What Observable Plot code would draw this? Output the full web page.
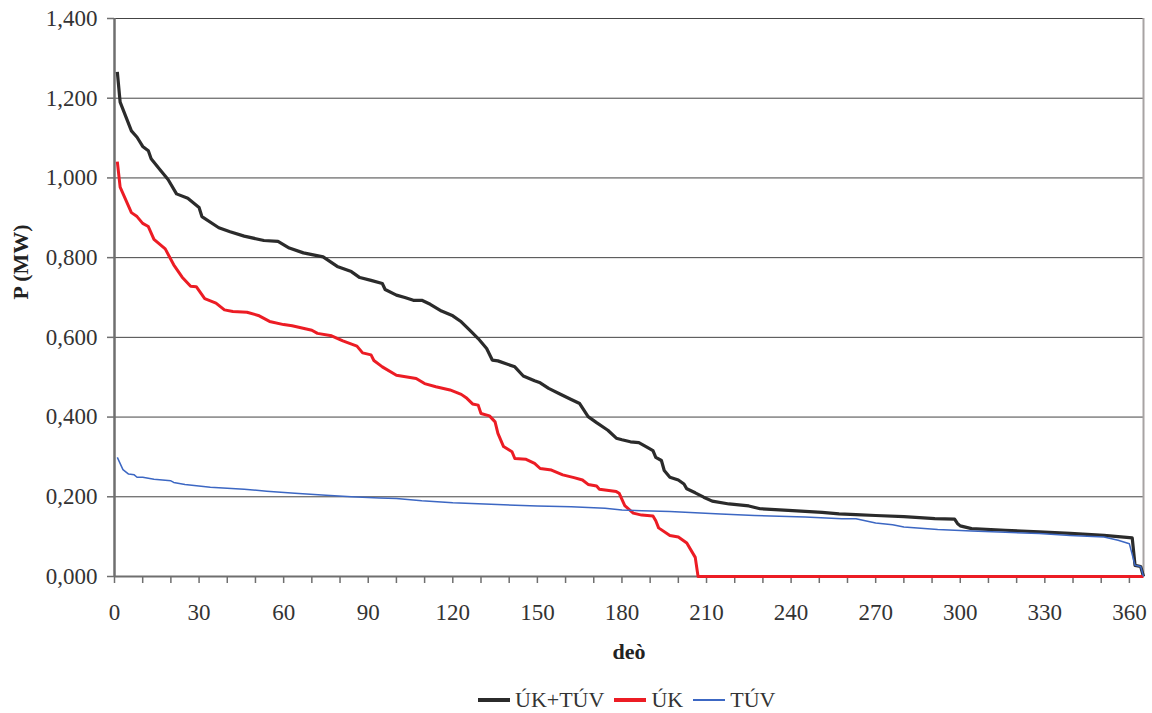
<!DOCTYPE html>
<html>
<head>
<meta charset="utf-8">
<script src="https://cdn.jsdelivr.net/npm/d3@7"></script>
<script src="https://cdn.jsdelivr.net/npm/@observablehq/plot@0.6"></script>
<style>
  body { margin: 0; background: #fff; font-family: "Liberation Serif", "Times New Roman", serif; }
  #chart { width: 1152px; height: 713px; overflow: hidden; }
  .legend { display: flex; align-items: center; height: 28px; margin-top: 14px; padding-left: 478px;
            font-size: 22px; color: #333; line-height: 28px; }
  .legend .item { display: flex; align-items: center; margin-right: 10px; }
  .legend .sw { display: inline-block; width: 32px; margin-right: 5px; }
</style>
</head>
<body>
<div id="chart"></div>
<script>
// Load duration curves of a heat source: power (MW) sorted over the days of the year.
const seriesNames = ["ÚK+TÚV", "ÚK", "TÚV"];
const seriesColors = ["#2b2b2b", "#ec1c24", "#3c67c3"];
const seriesWidths = [3.2, 3, 1.5];

// ÚK+TÚV: heating + hot water
const totalDays = [1, 2, 6, 8, 10, 12, 13, 16, 19, 22, 26, 30, 31, 37, 41, 46, 53, 58, 62, 67, 74, 79, 84, 87,
  91, 95, 96, 100, 103, 106, 109, 112, 116, 120, 123, 126, 129, 132, 134, 136, 142, 145, 149, 151, 154, 158,
  162, 165, 168, 171, 175, 178, 180, 183, 186, 189, 191, 192, 194, 195, 197, 200, 202, 203, 206, 209, 212,
  218, 225, 229, 239, 251, 257, 263, 270, 280, 291, 298, 299, 300, 304, 316, 328, 339, 351, 361, 362, 364, 365];
const totalValues = [1.266, 1.190, 1.118, 1.102, 1.079, 1.068, 1.048, 1.022, 0.996, 0.960, 0.949, 0.926, 0.903,
  0.875, 0.865, 0.854, 0.843, 0.841, 0.824, 0.812, 0.802, 0.778, 0.765, 0.750,
  0.743, 0.735, 0.720, 0.706, 0.700, 0.693, 0.693, 0.683, 0.666, 0.654, 0.639, 0.618, 0.597, 0.572, 0.543,
  0.541, 0.526, 0.503, 0.491, 0.486, 0.472, 0.458,
  0.444, 0.434, 0.401, 0.386, 0.367, 0.347, 0.343, 0.338, 0.336, 0.324, 0.316, 0.299, 0.291, 0.266, 0.249,
  0.242, 0.232, 0.220, 0.210, 0.199, 0.189,
  0.182, 0.177, 0.170, 0.166, 0.161, 0.157, 0.155, 0.153, 0.150, 0.145, 0.144, 0.133, 0.127, 0.120, 0.116,
  0.112, 0.108, 0.103, 0.097, 0.028, 0.025, 0.000];

// ÚK: space heating
const heatingDays = [1, 2, 6, 8, 10, 12, 14, 18, 21, 24, 27, 29, 32, 36, 39, 42, 47, 51, 55, 60, 63, 70, 72, 77,
  81, 86, 88, 91, 92, 95, 100, 107, 110, 114, 119, 123, 125, 127, 129, 130, 133, 135, 136, 138, 141, 142, 146,
  149, 151, 155, 159, 163, 166, 168, 171, 172, 178, 179, 181, 184, 187, 191, 192, 193, 197, 200, 203, 206, 207, 365];
const heatingValues = [1.041, 0.977, 0.913, 0.903, 0.886, 0.878, 0.846, 0.822, 0.782, 0.751, 0.728, 0.727, 0.697,
  0.686, 0.669, 0.665, 0.663, 0.655, 0.640, 0.632, 0.629, 0.618, 0.610, 0.604,
  0.591, 0.578, 0.561, 0.556, 0.542, 0.526, 0.505, 0.497, 0.484, 0.476, 0.468, 0.457, 0.447, 0.433, 0.430,
  0.409, 0.403, 0.388, 0.359, 0.326, 0.313, 0.296, 0.294,
  0.284, 0.271, 0.267, 0.255, 0.248, 0.242, 0.231, 0.227, 0.219, 0.213, 0.209, 0.178, 0.159, 0.154, 0.152,
  0.140, 0.122, 0.103, 0.099, 0.084, 0.048, 0.000, 0.000];

// TÚV: hot water
const waterDays = [1, 3, 5, 7, 8, 10, 14, 20, 21, 25, 34, 46, 54, 64, 75, 84, 94, 100, 109, 120, 138, 150, 162,
  174, 180, 187, 197, 215, 227, 245, 258, 263, 270, 276, 280, 292, 304, 316, 328, 339, 351, 356, 360, 362, 364, 365];
const waterValues = [0.299, 0.268, 0.257, 0.255, 0.249, 0.249, 0.244, 0.240, 0.236, 0.231, 0.224, 0.219, 0.214,
  0.209, 0.204, 0.200, 0.197, 0.196, 0.190, 0.185, 0.180, 0.177, 0.175,
  0.171, 0.167, 0.165, 0.163, 0.157, 0.153, 0.149, 0.145, 0.145, 0.134, 0.130, 0.124, 0.118, 0.114, 0.111,
  0.108, 0.103, 0.099, 0.091, 0.082, 0.028, 0.025, 0.000];

const xTicks = d3.range(0, 361, 10);
const yTicks = [0, 0.2, 0.4, 0.6, 0.8, 1.0, 1.2, 1.4];

const toRows = (days, values) => days.map((d, i) => ({day: d, value: values[i]}));
const lines = [toRows(totalDays, totalValues), toRows(heatingDays, heatingValues), toRows(waterDays, waterValues)];

const fmtY = v => v.toFixed(3).replace(".", ",");
const axisGray = "#6f6f6f";

const chart = Plot.plot({
  width: 1152,
  height: 672,
  marginLeft: 114,
  marginRight: 9,
  marginTop: 18,
  marginBottom: 96,
  style: {fontFamily: "Liberation Serif, Times New Roman, serif", fontSize: "23px", color: "#333", background: "#fff"},
  x: {domain: [0, 365]},
  y: {domain: [0, 1.4]},
  marks: [
    Plot.gridY(yTicks.filter(v => v > 0), {stroke: "#444", strokeOpacity: 1, strokeWidth: 1}),
    Plot.ruleX([365], {stroke: "#a8a3a3", strokeWidth: 2}),
    Plot.axisY(yTicks, {tickSize: 7, tickPadding: 10, tickFormat: fmtY, stroke: axisGray, strokeWidth: 1.5,
      fill: "#333", fontSize: 23, label: null}),
    Plot.axisX(xTicks, {tickSize: 7, tickPadding: 20, tickFormat: d => (d % 30 === 0 ? String(d) : ""),
      stroke: axisGray, strokeWidth: 1.5, fill: "#333", fontSize: 23, label: null}),
    Plot.ruleX([0], {stroke: axisGray, strokeWidth: 2.5}),
    Plot.ruleY([0], {stroke: axisGray, strokeWidth: 2}),
    ...lines.map((rows, i) => Plot.line(rows, {x: "day", y: "value", stroke: seriesColors[i],
      strokeWidth: seriesWidths[i], strokeLinejoin: "round", strokeLinecap: "butt"})),
    Plot.text(["P (MW)"], {text: d => d, frameAnchor: "left", rotate: -90, dx: -94, dy: 2, fontWeight: "bold",
      fontSize: 22, fill: "#222"}),
    Plot.text(["deò"], {text: d => d, frameAnchor: "bottom", dy: 82, fontWeight: "bold", fontSize: 22, fill: "#222"})
  ]
});

const root = document.getElementById("chart");
root.appendChild(chart);

const legend = document.createElement("div");
legend.className = "legend";
seriesNames.forEach((name, i) => {
  const item = document.createElement("span");
  item.className = "item";
  const sw = document.createElement("span");
  sw.className = "sw";
  sw.style.height = (i === 2 ? 2 : 4) + "px";
  sw.style.background = seriesColors[i];
  const label = document.createElement("span");
  label.textContent = name;
  item.appendChild(sw);
  item.appendChild(label);
  legend.appendChild(item);
});
root.appendChild(legend);
</script>
</body>
</html>
